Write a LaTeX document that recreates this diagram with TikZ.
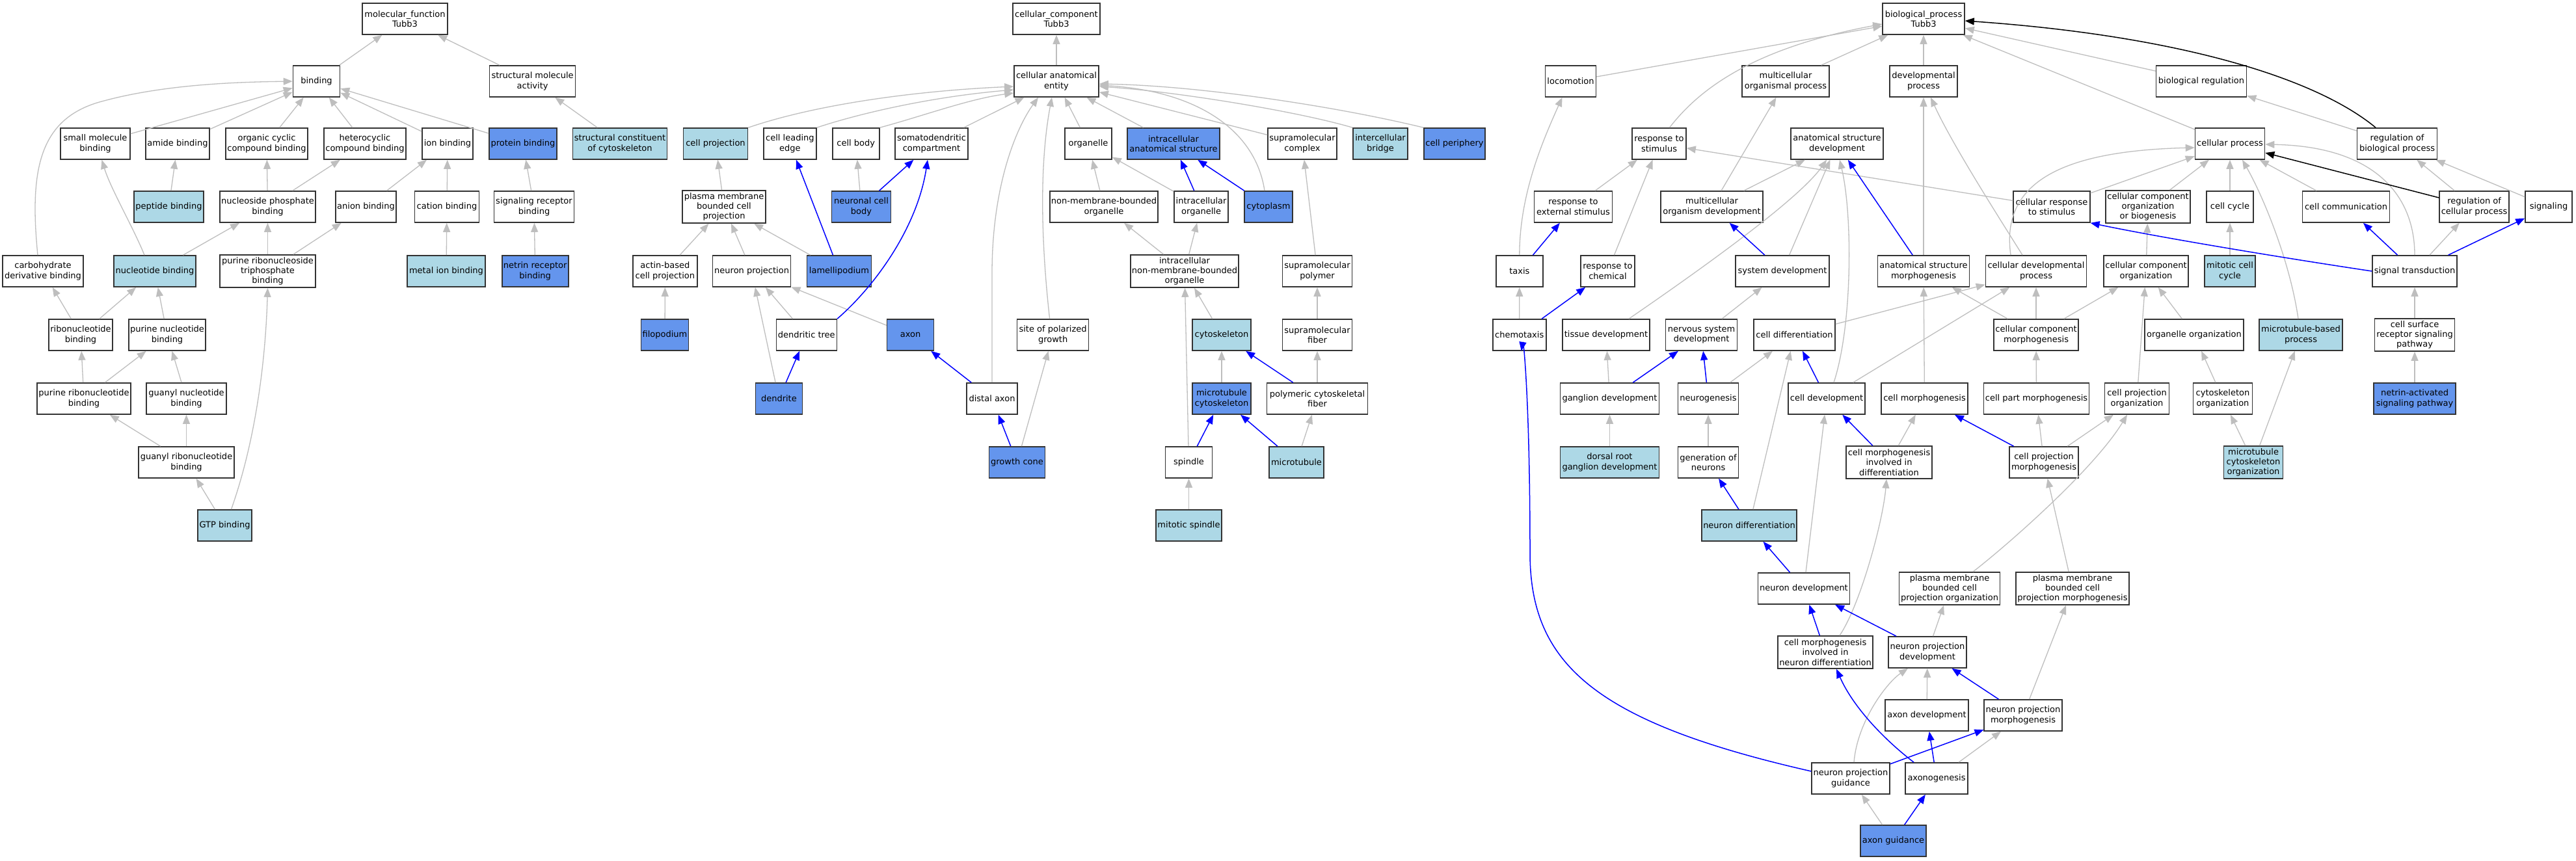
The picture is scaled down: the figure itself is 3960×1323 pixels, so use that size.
\documentclass[tikz,border=0pt]{standalone}
\usepackage{fontspec}
\setmainfont{DejaVu Sans}
\usetikzlibrary{arrows.meta}
\definecolor{lblue}{HTML}{ADD8E6}
\definecolor{cfblue}{HTML}{6495ED}
\definecolor{egray}{HTML}{BEBEBE}
\definecolor{bord}{HTML}{333333}
\newcommand\gn[6]{\node[#1,minimum width=#2pt] (#3) at (#4,#5) {#6};}
\begin{document}
\begin{tikzpicture}[x=1pt,y=-1pt,
 gobox/.style={draw=bord, line width=1.6pt, fill=white, minimum height=48pt, inner sep=0pt, align=center, font=\fontsize{13}{15.3}\selectfont},
 gobox3/.style={gobox, minimum height=50pt},
 goL/.style={gobox, fill=lblue},
 goL3/.style={gobox3, fill=lblue},
 goD/.style={gobox, fill=cfblue},
 eg/.style={draw=egray, line width=1.3pt, -{Triangle[length=14pt,width=11pt]}},
 eb/.style={draw=blue, line width=1.5pt, -{Triangle[length=14pt,width=11pt]}},
 ek/.style={draw=black, line width=1.5pt, -{Triangle[length=14pt,width=11pt]}},
]
\path[use as bounding box, fill=white] (0,0) rectangle (3960,1323);
% ---------------- molecular function ----------------
\gn{gobox}{131}{mf}{622.5}{29}{molecular\_function\\Tubb3}
\gn{gobox}{72}{binding}{486.5}{125}{binding}
\gn{gobox}{132}{sma}{818.6}{125}{structural molecule\\activity}
\gn{gobox}{107}{smb}{146.5}{221}{small molecule\\binding}
\gn{gobox}{98}{amide}{273}{221}{amide binding}
\gn{gobox}{126}{ocb}{410}{221}{organic cyclic\\compound binding}
\gn{gobox}{126}{hcb}{561}{221}{heterocyclic\\compound binding}
\gn{gobox}{78}{ion}{688}{221}{ion binding}
\gn{goD}{104}{prot}{804}{221}{protein binding}
\gn{goL}{145}{scc}{953}{221}{structural constituent\\of cytoskeleton}
\gn{goL}{107}{pep}{259.5}{318}{peptide binding}
\gn{gobox}{147}{npb}{411.5}{318}{nucleoside phosphate\\binding}
\gn{gobox}{93}{anion}{562.5}{318}{anion binding}
\gn{gobox}{99}{cation}{687}{318}{cation binding}
\gn{gobox}{123}{srb}{821}{318}{signaling receptor\\binding}
\gn{gobox}{124}{cdb}{66}{417}{carbohydrate\\derivative binding}
\gn{goL}{126}{nb}{238}{417}{nucleotide binding}
\gn{gobox3}{147}{prtb}{411.5}{417}{purine ribonucleoside\\triphosphate\\binding}
\gn{goL}{120}{mib}{686}{417}{metal ion binding}
\gn{goD}{102}{nrb}{822.7}{417}{netrin receptor\\binding}
\gn{gobox}{98}{rb}{124}{515}{ribonucleotide\\binding}
\gn{gobox}{118}{pnb}{257}{515}{purine nucleotide\\binding}
\gn{gobox}{144}{prb}{129}{613}{purine ribonucleotide\\binding}
\gn{gobox}{123}{gnb}{286.5}{613}{guanyl nucleotide\\binding}
\gn{gobox}{147}{grb}{286.5}{711}{guanyl ribonucleotide\\binding}
\gn{goL}{83}{gtp}{345.5}{808}{GTP binding}
% ---------------- cellular component ----------------
\gn{gobox}{134}{ccr}{1624}{29}{cellular\_component\\Tubb3}
\gn{gobox}{130}{cae}{1624}{125}{cellular anatomical\\entity}
\gn{goL}{99}{cp}{1100}{221}{cell projection}
\gn{gobox}{81}{cle}{1214.4}{221}{cell leading\\edge}
\gn{gobox}{72}{cb}{1315.7}{221}{cell body}
\gn{gobox}{112}{sdc}{1432}{221}{somatodendritic\\compartment}
\gn{gobox}{72}{org}{1673}{221}{organelle}
\gn{goD}{141.5}{ias}{1804}{221}{intracellular\\anatomical structure}
\gn{gobox}{106}{smc}{2002}{221}{supramolecular\\complex}
\gn{goL}{84}{ib}{2122}{221}{intercellular\\bridge}
\gn{goD}{94}{cper}{2236}{221}{cell periphery}
\gn{gobox3}{128.5}{pmbcp}{1113}{318}{plasma membrane\\bounded cell\\projection}
\gn{goD}{91}{ncb}{1324}{318}{neuronal cell\\body}
\gn{gobox}{166}{nmbo}{1697}{318}{non-membrane-bounded\\organelle}
\gn{gobox}{83}{io}{1846.6}{318}{intracellular\\organelle}
\gn{goD}{74.5}{cyto}{1950}{318}{cytoplasm}
\gn{gobox}{99}{abcp}{1022.4}{417}{actin-based\\cell projection}
\gn{gobox}{120}{np}{1155.6}{417}{neuron projection}
\gn{goD}{99}{lam}{1290}{417}{lamellipodium}
\gn{gobox3}{166}{inmbo}{1821}{417}{intracellular\\non-membrane-bounded\\organelle}
\gn{gobox}{107}{smp}{2025}{417}{supramolecular\\polymer}
\gn{goD}{73}{filo}{1022}{515}{filopodium}
\gn{gobox}{93}{dt}{1239.8}{515}{dendritic tree}
\gn{goD}{72}{axon}{1399.5}{515}{axon}
\gn{gobox}{110}{spg}{1618.6}{515}{site of polarized\\growth}
\gn{goL}{90.5}{csk}{1878}{515}{cytoskeleton}
\gn{gobox}{107}{smf}{2025}{515}{supramolecular\\fiber}
\gn{goD}{72}{dend}{1197.4}{613}{dendrite}
\gn{gobox}{78}{dax}{1525}{613}{distal axon}
\gn{goD}{90.5}{mtc}{1878}{613}{microtubule\\cytoskeleton}
\gn{gobox}{155}{pcf}{2025}{613}{polymeric cytoskeletal\\fiber}
\gn{goD}{86}{gc}{1563.5}{711}{growth cone}
\gn{gobox}{72}{spin}{1827.5}{711}{spindle}
\gn{goL}{83.5}{mt}{1993}{711}{microtubule}
\gn{goL}{101}{mspin}{1827.5}{808}{mitotic spindle}
% ---------------- biological process ----------------
\gn{gobox}{126}{bpr}{2957}{29}{biological\_process\\Tubb3}
\gn{gobox}{78}{loco}{2414.5}{125}{locomotion}
\gn{gobox}{133.5}{mop}{2745}{125}{multicellular\\organismal process}
\gn{gobox}{104}{dp}{2957}{125}{developmental\\process}
\gn{gobox}{139}{breg}{3384}{125}{biological regulation}
\gn{gobox}{83}{rts}{2550.5}{221}{response to\\stimulus}
\gn{gobox}{141.5}{asd}{2824}{221}{anatomical structure\\development}
\gn{gobox}{107}{cproc}{3428}{221}{cellular process}
\gn{gobox}{123}{rbp}{3685}{221}{regulation of\\biological process}
\gn{gobox}{120}{rtes}{2418.5}{318}{response to\\external stimulus}
\gn{gobox}{157}{mod}{2631.5}{318}{multicellular\\organism development}
\gn{gobox}{117.5}{crs}{3154}{318}{cellular response\\to stimulus}
\gn{gobox3}{130.5}{ccob}{3302}{318}{cellular component\\organization\\or biogenesis}
\gn{gobox}{72}{ccyc}{3428}{318}{cell cycle}
\gn{gobox}{134}{ccomm}{3606.5}{318}{cell communication}
\gn{gobox}{107}{rcp}{3803.6}{318}{regulation of\\cellular process}
\gn{gobox}{72}{sig}{3918}{318}{signaling}
\gn{gobox}{72}{taxis}{2335.8}{417}{taxis}
\gn{gobox}{83}{rtc}{2471.5}{417}{response to\\chemical}
\gn{gobox}{144}{sysd}{2740}{417}{system development}
\gn{gobox}{141}{asm}{2957}{417}{anatomical structure\\morphogenesis}
\gn{gobox}{155}{cdp}{3130}{417}{cellular developmental\\process}
\gn{gobox}{130.5}{cco}{3299}{417}{cellular component\\organization}
\gn{goL}{78}{mcc}{3428}{417}{mitotic cell\\cycle}
\gn{gobox}{130}{st}{3712}{417}{signal transduction}
\gn{gobox}{82}{chemo}{2335.7}{515}{chemotaxis}
\gn{gobox}{134}{td}{2469}{515}{tissue development}
\gn{gobox}{110}{nsd}{2615.6}{515}{nervous system\\development}
\gn{gobox}{125}{cdiff}{2758.5}{515}{cell differentiation}
\gn{gobox}{130}{ccm}{3130}{515}{cellular component\\morphogenesis}
\gn{gobox}{152}{oo}{3373}{515}{organelle organization}
\gn{goL}{128}{mbp}{3537}{515}{microtubule-based\\process}
\gn{gobox3}{123}{csrsp}{3712}{515}{cell surface\\receptor signaling\\pathway}
\gn{gobox}{152}{gd}{2474.5}{613}{ganglion development}
\gn{gobox}{93}{ngen}{2626}{613}{neurogenesis}
\gn{gobox}{118}{cdev}{2808}{613}{cell development}
\gn{gobox}{133}{cmorph}{2958.5}{613}{cell morphogenesis}
\gn{gobox}{162}{cpm}{3130.5}{613}{cell part morphogenesis}
\gn{gobox}{99}{cpo}{3285}{613}{cell projection\\organization}
\gn{gobox}{91}{cso}{3417}{613}{cytoskeleton\\organization}
\gn{goD}{125.5}{nasp}{3712}{613}{netrin-activated\\signaling pathway}
\gn{goL}{152}{drgd}{2474.5}{711}{dorsal root\\ganglion development}
\gn{gobox}{93}{gon}{2626}{711}{generation of\\neurons}
\gn{gobox3}{132.5}{cmid}{2904}{711}{cell morphogenesis\\involved in\\differentiation}
\gn{gobox}{106}{cprm}{3142}{711}{cell projection\\morphogenesis}
\gn{goL3}{91}{mco}{3464}{711}{microtubule\\cytoskeleton\\organization}
\gn{goL}{146}{nd}{2689}{808}{neuron differentiation}
\gn{gobox}{141}{ndev}{2773}{905}{neuron development}
\gn{gobox3}{155}{pmbcpo}{2997}{905}{plasma membrane\\bounded cell\\projection organization}
\gn{gobox3}{173.5}{pmbcpm}{3186}{905}{plasma membrane\\bounded cell\\projection morphogenesis}
\gn{gobox3}{146}{cmind}{2806}{1003}{cell morphogenesis\\involved in\\neuron differentiation}
\gn{gobox}{119.5}{npd}{2963}{1003}{neuron projection\\development}
\gn{gobox}{128}{axd}{2962}{1100}{axon development}
\gn{gobox}{119.5}{npm}{3110}{1100}{neuron projection\\morphogenesis}
\gn{gobox}{120}{npg}{2845}{1197}{neuron projection\\guidance}
\gn{gobox}{96}{axg}{2977}{1197}{axonogenesis}
\gn{goD}{101}{axgu}{2910.5}{1293}{axon guidance}
% ================= gray edges =================
% MF
\draw[eg] (binding) -- (mf);
\draw[eg] (sma) -- (mf);
\draw[eg] (smb) -- (binding);
\draw[eg] (amide) -- (binding);
\draw[eg] (ocb) -- (binding);
\draw[eg] (hcb) -- (binding);
\draw[eg] (ion) -- (binding);
\draw[eg] (prot) -- (binding);
\draw[eg] ([xshift=-8pt]cdb.north) .. controls (45,260) and (60,180) .. (160,155) .. controls (260,128) and (380,126) .. (binding.west);
\draw[eg] (scc) -- (sma);
\draw[eg] (pep) -- (amide);
\draw[eg] (npb) -- (ocb);
\draw[eg] (npb) -- (hcb);
\draw[eg] (anion) -- (ion);
\draw[eg] (cation) -- (ion);
\draw[eg] (srb) -- (prot);
\draw[eg] ([xshift=-16pt]nb.north) .. controls (205,350) and (170,290) .. ([xshift=10pt]smb.south);
\draw[eg] (nb) -- (npb);
\draw[eg] (prtb) -- (npb);
\draw[eg] (prtb) -- (anion);
\draw[eg] (mib) -- (cation);
\draw[eg] (nrb) -- (srb);
\draw[eg] (rb) -- (cdb);
\draw[eg] (rb) -- (nb);
\draw[eg] (pnb) -- (nb);
\draw[eg] (prb) -- (rb);
\draw[eg] (prb) -- (pnb);
\draw[eg] (gnb) -- (pnb);
\draw[eg] (grb) -- (prb);
\draw[eg] (grb) -- (gnb);
\draw[eg] (gtp) -- (grb);
\draw[eg] ([xshift=10pt]gtp.north) .. controls (392,680) and (408,560) .. (prtb.south);
% CC
\draw[eg] (cae) -- (ccr);
\draw[eg] (cp.north east) .. controls (1250,162) and (1400,140) .. ([yshift=-8pt]cae.west);
\draw[eg] (cle.north east) .. controls (1310,178) and (1420,150) .. ([yshift=-13pt]cae.west);
\draw[eg] (cb.north east) .. controls (1420,178) and (1490,152) .. ([yshift=-18pt]cae.west);
\draw[eg] (sdc) -- (cae);
\draw[eg] (org) -- (cae);
\draw[eg] (ias) -- (cae);
\draw[eg] (smc) -- (cae);
\draw[eg] (ib.north west) .. controls (1990,170) and (1800,140) .. ([yshift=-8pt]cae.east);
\draw[eg] (cper.north west) .. controls (2060,165) and (1850,132) .. ([yshift=-4pt]cae.east);
\draw[eg] ([xshift=-6pt]cyto.north) .. controls (1930,200) and (1840,140) .. ([yshift=-6pt]cae.east);
\draw[eg] (pmbcp) -- (cp);
\draw[eg] (ncb) -- (cb);
\draw[eg] (abcp) -- (pmbcp);
\draw[eg] (np) -- (pmbcp);
\draw[eg] (lam) -- (pmbcp);
\draw[eg] (nmbo) -- (org);
\draw[eg] (io) -- (org);
\draw[eg] (inmbo) -- (nmbo);
\draw[eg] (inmbo) -- (io);
\draw[eg] (smp) -- (smc);
\draw[eg] (filo) -- (abcp);
\draw[eg] (dt) -- (np);
\draw[eg] (axon) -- (np);
\draw[eg] ([xshift=-5pt]spg.north) .. controls (1598,350) and (1600,240) .. ([xshift=-7pt]cae.south);
\draw[eg] (csk) -- (inmbo);
\draw[eg] (smf) -- (smp);
\draw[eg] (dend) -- (np);
\draw[eg] (dax.north) -- (1525,420) .. controls (1525,290) and (1560,200) .. ([xshift=-28pt]cae.south);
\draw[eg] (mtc) -- (csk);
\draw[eg] (pcf) -- (smf);
\draw[eg] (gc) -- (spg);
\draw[eg] (spin) -- (inmbo);
\draw[eg] (mt) -- (pcf);
\draw[eg] (mspin) -- (spin);
% BP
\draw[eg] (loco) -- (bpr);
\draw[eg] (mop) -- (bpr);
\draw[eg] (dp) -- (bpr);
\draw[eg] (breg) -- (bpr);
\draw[eg] (cproc) -- (bpr);
\draw[eg] ([xshift=16pt]rts.north) .. controls (2610,140) and (2690,75) .. ([yshift=-8pt]bpr.west);
\draw[eg] (rbp) -- (breg);
\draw[eg] (rtes) -- (rts);
\draw[eg] (mod) -- (mop);
\draw[eg] (mod) -- (asd);
\draw[eg] (crs) -- (rts);
\draw[eg] (crs) -- (cproc);
\draw[eg] (ccob) -- (cproc);
\draw[eg] (ccyc) -- (cproc);
\draw[eg] (ccomm) -- (cproc);
\draw[eg] (rcp) -- (rbp);
\draw[eg] (sig) -- (rbp);
\draw[eg] (taxis.north) .. controls (2336,300) and (2370,220) .. ([xshift=-13pt]loco.south);
\draw[eg] (rtc) -- (rts);
\draw[eg] (sysd) -- (asd);
\draw[eg] (asm) -- (dp);
\draw[eg] ([xshift=-21pt]cdp.north) .. controls (3070,330) and (3000,220) .. ([xshift=11pt]dp.south);
\draw[eg] ([xshift=-39pt]cdp.north) .. controls (3075,280) and (3170,232) .. ([yshift=-6pt]cproc.west);
\draw[eg] (cco) -- (ccob);
\draw[eg] (mcc) -- (ccyc);
\draw[eg] (st) -- (rcp);
\draw[eg] (st.north) .. controls (3712,300) and (3650,225) .. ([yshift=-1pt]cproc.east);
\draw[eg] (chemo) -- (taxis);
\draw[eg] ([xshift=35pt]td.north) .. controls (2650,390) and (2770,300) .. ([xshift=-16pt]asd.south);
\draw[eg] (nsd) -- (sysd);
\draw[eg] (cdiff) -- (cdp);
\draw[eg] (ccm) -- (asm);
\draw[eg] (ccm) -- (cdp);
\draw[eg] (ccm) -- (cco);
\draw[eg] (oo) -- (cco);
\draw[eg] ([xshift=-4pt]mbp.north) .. controls (3520,400) and (3478,300) .. ([xshift=19pt]cproc.south);
\draw[eg] (csrsp) -- (st);
\draw[eg] (gd) -- (td);
\draw[eg] (ngen) -- (cdiff);
\draw[eg] ([xshift=11pt]cdev.north) .. controls (2848,500) and (2848,330) .. ([xshift=4pt]asd.south);
\draw[eg] (cdev) -- (cdp);
\draw[eg] (cmorph) -- (asm);
\draw[eg] (cpm) -- (ccm);
\draw[eg] (cpo) -- (cco);
\draw[eg] (cso) -- (oo);
\draw[eg] (nasp) -- (csrsp);
\draw[eg] (drgd) -- (gd);
\draw[eg] (gon) -- (ngen);
\draw[eg] (cmid) -- (cmorph);
\draw[eg] (cprm) -- (cpm);
\draw[eg] (cprm) -- (cpo);
\draw[eg] (mco) -- (cso);
\draw[eg] (mco) -- (mbp);
\draw[eg] (nd) -- (cdiff);
\draw[eg] (ndev) -- (cdev);
\draw[eg] ([xshift=36pt]pmbcpo.north) .. controls (3090,835) and (3220,720) .. ([xshift=-15pt]cpo.south);
\draw[eg] (pmbcpm) -- (cprm);
\draw[eg] ([xshift=22pt]cmind.north) .. controls (2860,930) and (2895,800) .. ([xshift=-4pt]cmid.south);
\draw[eg] (npd) -- (pmbcpo);
\draw[eg] (axd) -- (npd);
\draw[eg] (npm) -- (pmbcpm);
\draw[eg] ([xshift=5pt]npg.north) .. controls (2855,1110) and (2900,1050) .. ([xshift=-30pt]npd.south);
\draw[eg] (axg) -- (npm);
\draw[eg] (axgu) -- (npg);
% ================= blue / black edges =================
\draw[eb] (ncb) -- (sdc);
\draw[eb] (lam) -- (cle);
\draw[eb] (io) -- (ias);
\draw[eb] (cyto) -- (ias);
\draw[eb] (dt.north east) .. controls (1345,440) and (1410,350) .. ([xshift=-6pt]sdc.south);
\draw[eb] (dend) -- (dt);
\draw[eb] (dax) -- (axon);
\draw[eb] (pcf) -- (csk);
\draw[eb] (gc) -- (dax);
\draw[eb] (spin) -- (mtc);
\draw[eb] (mt) -- (mtc);
\draw[ek] ([xshift=-33pt]rbp.north) .. controls (3560,120) and (3350,55) .. ([yshift=-3pt]bpr.east);
\draw[ek] (rcp) -- (cproc);
\draw[eb] (taxis) -- (rtes);
\draw[eb] (sysd) -- (mod);
\draw[eb] (asm) -- (asd);
\draw[eb] (st) -- (ccomm);
\draw[eb] (st) -- (sig);
\draw[eb] (st.west) .. controls (3500,395) and (3320,365) .. (crs.south east);
\draw[eb] (chemo) -- (rtc);
\draw[eb] (gd) -- (nsd);
\draw[eb] (ngen) -- (nsd);
\draw[eb] (cdev) -- (cdiff);
\draw[eb] (cmid) -- (cdev);
\draw[eb] (cprm) -- (cmorph);
\draw[eb] (nd) -- (gon);
\draw[eb] (ndev) -- (nd);
\draw[eb] (cmind) -- (ndev);
\draw[eb] (npd) -- (ndev);
\draw[eb] (npm) -- (npd);
\draw[eb] (npg) -- (npm);
\draw[eb] ([yshift=11pt]npg.west) .. controls (2450,1110) and (2352,1020) .. (2352,850) .. controls (2352,620) and (2342,520) .. ([xshift=3pt]chemo.south);
\draw[eb] ([xshift=-35pt]axg.north) .. controls (2900,1140) and (2850,1090) .. ([xshift=17pt]cmind.south);
\draw[eb] (axg) -- (axd);
\draw[eb] (axgu) -- (axg);
\end{tikzpicture}
\end{document}
